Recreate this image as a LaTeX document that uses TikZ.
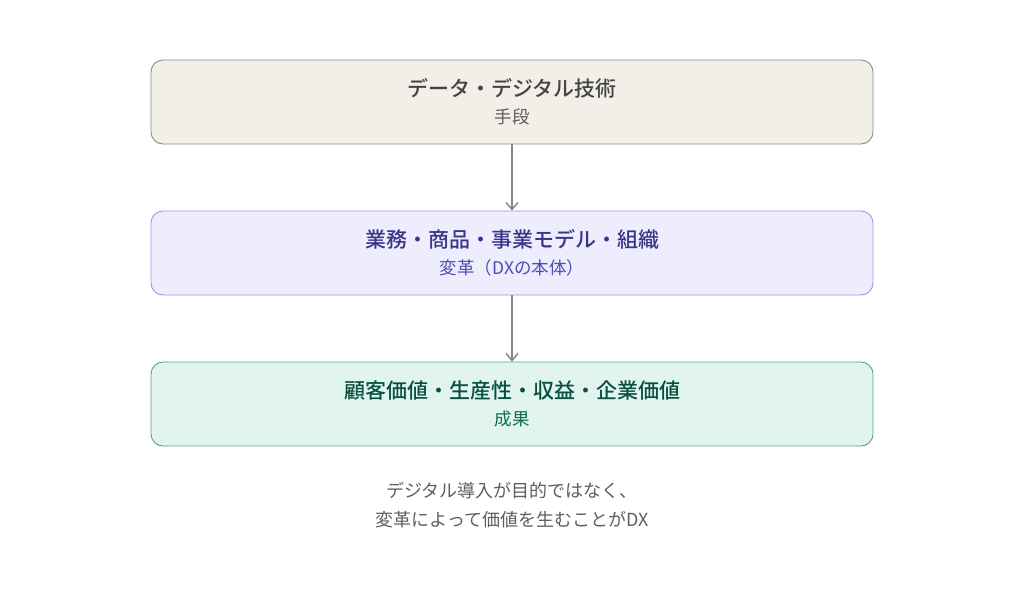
\documentclass[tikz,border=0pt]{standalone}
\usepackage{fontspec}
\setmainfont{Noto Sans CJK JP}[BoldFont={Noto Sans CJK JP Medium}]
\usetikzlibrary{arrows.meta}
\definecolor{toolfill}{HTML}{F1EFE8}
\definecolor{toolline}{HTML}{8C8A84}
\definecolor{tooltext}{HTML}{444441}
\definecolor{toolsub}{HTML}{5F5E5A}
\definecolor{changefill}{HTML}{EEEDFE}
\definecolor{changeline}{HTML}{9C95E0}
\definecolor{changetext}{HTML}{3C3489}
\definecolor{changesub}{HTML}{534AB7}
\definecolor{valuefill}{HTML}{E1F5EE}
\definecolor{valueline}{HTML}{5E9E80}
\definecolor{valuetext}{HTML}{085041}
\definecolor{valuesub}{HTML}{0F6E56}
\definecolor{arrowgray}{HTML}{888780}
\definecolor{notegray}{HTML}{5F5E5A}
\begin{document}
\begin{tikzpicture}[x=1pt,y=-1pt,
   box/.style={draw,rounded corners=12pt,minimum width=722pt,minimum height=84pt,line width=0.9pt},
   boxtitle/.style={inner sep=0pt,font=\fontsize{21}{25}\selectfont\bfseries},
   boxsub/.style={inner sep=0pt,font=\fontsize{17.5}{21}\selectfont},
   flow/.style={draw=arrowgray,line width=1.5pt,-{Straight Barb[length=7pt,width=12pt]}}]
   \useasboundingbox (0,0) rectangle (1024,603);
   % three layers
   \node[box,fill=toolfill,draw=toolline] (tool) at (512,102) {};
   \node[boxtitle,text=tooltext] (tooltitle) at ([yshift=13.5pt]tool.center) {データ・デジタル技術};
   \node[boxsub,text=toolsub] (toolsub) at ([yshift=-14.5pt]tool.center) {手段};
   \node[box,fill=changefill,draw=changeline] (change) at (512,253) {};
   \node[boxtitle,text=changetext] (changetitle) at ([yshift=13.5pt]change.center) {業務・商品・事業モデル・組織};
   \node[boxsub,text=changesub] (changesub) at ([yshift=-14.5pt]change.center) {変革（DXの本体）};
   \node[box,fill=valuefill,draw=valueline] (value) at (512,404) {};
   \node[boxtitle,text=valuetext] (valuetitle) at ([yshift=13.5pt]value.center) {顧客価値・生産性・収益・企業価値};
   \node[boxsub,text=valuesub] (valuesub) at ([yshift=-14.5pt]value.center) {成果};
   % arrows
   \draw[flow] (tool) -- (change);
   \draw[flow] (change) -- (value);
   % note
   \node[align=center,text=notegray,font=\fontsize{18}{29}\selectfont] (note) at (512,505)
      {デジタル導入が目的ではなく、\\変革によって価値を生むことがDX};
\end{tikzpicture}
\end{document}
